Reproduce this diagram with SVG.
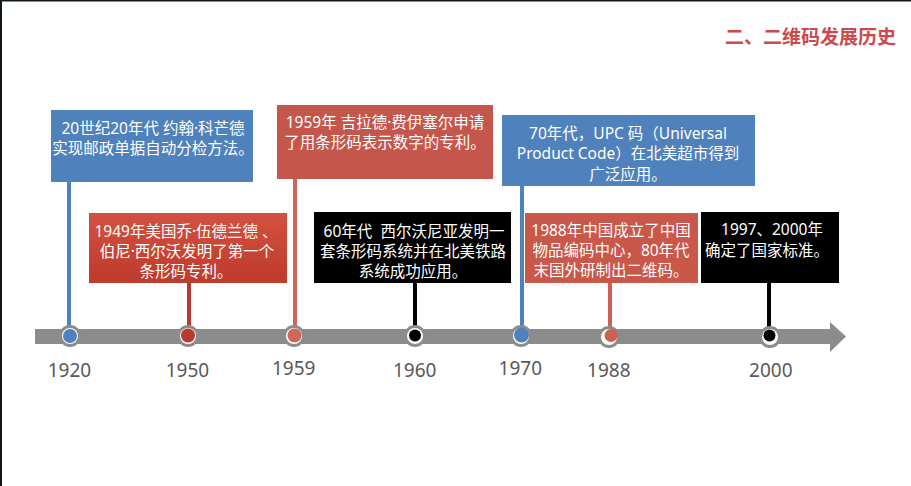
<svg xmlns="http://www.w3.org/2000/svg" width="911" height="486" viewBox="0 0 911 486">
  <defs>
    <linearGradient id="redGrad" x1="0" y1="0" x2="0" y2="1">
      <stop offset="0" stop-color="#D4503E"/>
      <stop offset="1" stop-color="#BE3B2D"/>
    </linearGradient>
    <style>
      .cap { font-family: "Noto Sans", "Noto Sans CJK SC", sans-serif; font-size: 15.5px; fill: #FFFFFF; text-anchor: middle; }
      .year { font-family: "Noto Sans", "Open Sans", sans-serif; font-size: 19px; fill: #595959; text-anchor: middle; }
      .title { font-family: "Noto Sans CJK SC", sans-serif; font-size: 19px; font-weight: bold; fill: #CC4A4E; }
      .ring { fill: #8C8C8C; }
      .halo { fill: #FFFFFF; }
      .stem { stroke-width: 4; fill: none; }
    </style>
  </defs>

  <rect x="0" y="0" width="911" height="486" fill="#FFFFFF"/>
  <!-- window frame edges -->
  <rect x="0" y="0" width="911" height="1.5" fill="#111820"/>
  <rect x="0" y="0" width="2" height="486" fill="#111820"/>

  <text class="title" x="725" y="44">二、二维码发展历史</text>

  <!-- timeline axis -->
  <g id="axis">
    <rect x="35" y="329" width="796" height="15" fill="#8C8C8C"/>
    <polygon points="830,322 846,336.5 830,352" fill="#8C8C8C"/>
  </g>

  <!-- connectors: stems from each card to its point on the axis -->
  <g id="connectors">
    <line class="stem" x1="69" y1="182" x2="69" y2="336" stroke="#4F81BD"/>
    <line class="stem" x1="189" y1="283" x2="189" y2="336" stroke="#B83A2E"/>
    <line class="stem" x1="295" y1="179" x2="295" y2="336" stroke="#D0675C"/>
    <line class="stem" x1="415" y1="283" x2="415" y2="336" stroke="#000000" stroke-width="3"/>
    <line class="stem" x1="522" y1="186" x2="522" y2="336" stroke="#4F81BD"/>
    <line class="stem" x1="610" y1="283" x2="610" y2="336" stroke="#D05F52"/>
    <line class="stem" x1="769" y1="283" x2="769" y2="336" stroke="#000000" stroke-width="3"/>
  </g>

  <!-- axis points -->
  <g id="points">
    <g id="p1920"><circle class="ring" cx="70" cy="336" r="11"/><circle class="halo" cx="70" cy="336" r="8"/><circle cx="70" cy="336" r="7" fill="#4F81BD"/></g>
    <g id="p1950"><circle class="ring" cx="188" cy="336" r="11"/><circle class="halo" cx="188" cy="336" r="8"/><circle cx="188" cy="335.5" r="7" fill="#B83A2E"/></g>
    <g id="p1959"><circle class="ring" cx="294" cy="336" r="11"/><circle class="halo" cx="294" cy="336" r="8"/><circle cx="294.5" cy="335.5" r="7" fill="#D0675C"/></g>
    <g id="p1960"><circle class="ring" cx="415" cy="336" r="11"/><circle class="halo" cx="415" cy="336" r="8"/><circle cx="415" cy="335.5" r="6" fill="#000000"/></g>
    <g id="p1970"><circle class="ring" cx="521" cy="336" r="11"/><circle class="halo" cx="521" cy="336" r="8"/><circle cx="521.5" cy="335" r="7.5" fill="#4F81BD"/></g>
    <g id="p1988"><circle class="ring" cx="609" cy="337" r="11"/><circle class="halo" cx="609" cy="337" r="8"/><circle cx="611" cy="335.5" r="6.5" fill="#D05F52"/></g>
    <g id="p2000"><circle class="ring" cx="770" cy="337" r="11"/><circle class="halo" cx="770" cy="337" r="8"/><circle cx="769.5" cy="335.5" r="6" fill="#000000"/></g>
  </g>

  <!-- year labels -->
  <g id="years">
    <text class="year" x="69.5" y="377">1920</text>
    <text class="year" x="187.5" y="377">1950</text>
    <text class="year" x="293.7" y="375">1959</text>
    <text class="year" x="414.7" y="377">1960</text>
    <text class="year" x="520.3" y="375">1970</text>
    <text class="year" x="608.8" y="377">1988</text>
    <text class="year" x="770.8" y="377">2000</text>
  </g>

  <!-- event cards -->
  <g id="card1920">
    <rect x="51" y="110" width="202" height="72" fill="#4F81BD"/>
    <text class="cap" x="153" y="134">20世纪20年代 约翰·科芒德</text>
    <text class="cap" x="153" y="154">实现邮政单据自动分检方法。</text>
  </g>
  <g id="card1950">
    <rect x="89" y="213" width="198" height="70" fill="url(#redGrad)"/>
    <text class="cap" x="186" y="237">1949年美国乔·伍德兰德 、</text>
    <text class="cap" x="187" y="257">伯尼·西尔沃发明了第一个</text>
    <text class="cap" x="186" y="277">条形码专利。</text>
  </g>
  <g id="card1959">
    <rect x="277" y="105" width="216" height="74" fill="#C5564B"/>
    <text class="cap" x="385" y="128">1959年 吉拉德·费伊塞尔申请</text>
    <text class="cap" x="385" y="148">了用条形码表示数字的专利。</text>
  </g>
  <g id="card1960">
    <rect x="314" y="212" width="197" height="71" fill="#000000"/>
    <text class="cap" x="414" y="237">60年代&#160; 西尔沃尼亚发明一</text>
    <text class="cap" x="413" y="257">套条形码系统并在北美铁路</text>
    <text class="cap" x="413" y="277">系统成功应用。</text>
  </g>
  <g id="card1970">
    <rect x="502" y="115" width="253" height="71" fill="#4F81BD"/>
    <text class="cap" x="628" y="139">70年代，UPC 码（Universal</text>
    <text class="cap" x="628" y="159">Product Code）在北美超市得到</text>
    <text class="cap" x="628" y="180">广泛应用。</text>
  </g>
  <g id="card1988">
    <rect x="525" y="213" width="173" height="70" fill="#C9574A"/>
    <text class="cap" x="611" y="236">1988年中国成立了中国</text>
    <text class="cap" x="611" y="256">物品编码中心，80年代</text>
    <text class="cap" x="611" y="276">末国外研制出二维码。</text>
  </g>
  <g id="card2000">
    <rect x="701" y="212" width="138" height="71" fill="#000000"/>
    <text class="cap" x="772" y="235">1997、2000年</text>
    <text class="cap" x="767" y="256">确定了国家标准。</text>
  </g>
</svg>
